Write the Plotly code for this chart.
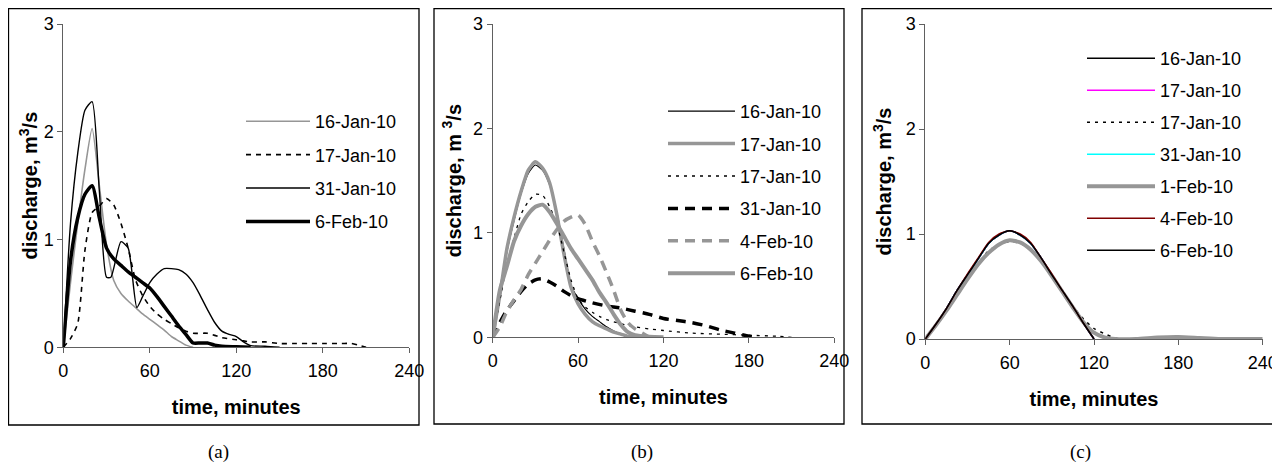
import plotly.graph_objects as go

# the page puts the figure 8px in from the top-left corner
OFF = 8
W, H = 1280 - OFF, 465 - OFF

# ---- panel (a) ----
a_16jan_t = [0, 5, 10, 15, 20, 25, 30, 35, 40, 45, 50, 55, 60, 65, 70, 75, 80, 85, 90]
a_16jan_q = [0, 0.6, 1.15, 1.65, 2.03, 1.5, 0.95, 0.62, 0.5, 0.43, 0.37, 0.31, 0.26, 0.21, 0.16, 0.1, 0.06, 0.02, 0]

a_17jan_t = [0, 5, 10, 15, 20, 25, 30, 35, 40, 45, 50, 55, 60, 65, 70, 75, 80, 85, 90, 100,
             110, 120, 130, 140, 150, 160, 170, 180, 190, 200, 205, 210]
a_17jan_q = [0, 0.08, 0.22, 0.9, 1.25, 1.31, 1.38, 1.32, 1.15, 0.92, 0.63, 0.48, 0.38, 0.31, 0.26,
             0.22, 0.18, 0.15, 0.13, 0.13, 0.09, 0.07, 0.05, 0.05, 0.035, 0.035, 0.035, 0.035,
             0.035, 0.035, 0.02, 0]

a_31jan_t = [0, 5, 10, 15, 20, 25, 30, 33, 40, 45, 51, 55, 60, 65, 70, 75, 80, 85, 90, 95, 100,
             105, 110, 115, 120, 125, 130, 140, 150]
a_31jan_q = [0, 1.15, 1.8, 2.2, 2.28, 1.45, 0.65, 0.65, 0.98, 0.92, 0.37, 0.47, 0.6, 0.68, 0.73,
             0.73, 0.72, 0.68, 0.6, 0.48, 0.35, 0.23, 0.15, 0.12, 0.1, 0.05, 0.015, 0.01, 0]

a_6feb_t = [0, 5, 10, 15, 20, 25, 30, 35, 40, 45, 50, 55, 60, 65, 70, 75, 80, 85, 90, 95, 100,
            105, 110, 120, 130]
a_6feb_q = [0, 0.8, 1.2, 1.42, 1.5, 1.2, 0.92, 0.82, 0.76, 0.7, 0.65, 0.6, 0.55, 0.47, 0.38,
            0.29, 0.2, 0.12, 0.04, 0.04, 0.04, 0.02, 0.01, 0.005, 0]

# ---- panel (b) ----
b_t = [0, 5, 10, 15, 20, 25, 30, 35, 40, 45, 50, 55, 60, 65, 70, 75, 80, 85, 90, 95, 100]
b_16jan_q = [0, 0.4, 0.82, 1.12, 1.38, 1.57, 1.65, 1.6, 1.46, 1.2, 0.85, 0.5, 0.37, 0.27, 0.2,
             0.15, 0.1, 0.06, 0.03, 0, 0]
b_17jan_q = [0, 0.4, 0.85, 1.15, 1.4, 1.6, 1.68, 1.62, 1.48, 1.18, 0.8, 0.48, 0.32, 0.22, 0.15,
             0.11, 0.08, 0.05, 0.03, 0.01, 0]

b_17jan_dot_t = [0, 5, 10, 15, 20, 25, 30, 35, 40, 45, 50, 55, 60, 65, 70, 75, 80, 90, 100, 110,
                 120, 140, 160, 180, 200, 210]
b_17jan_dot_q = [0, 0.35, 0.7, 0.95, 1.18, 1.3, 1.37, 1.36, 1.25, 1.09, 0.82, 0.55, 0.37, 0.29,
                 0.24, 0.2, 0.17, 0.13, 0.1, 0.08, 0.065, 0.04, 0.03, 0.02, 0.01, 0]

b_31jan_t = [0, 5, 10, 15, 20, 25, 30, 35, 40, 45, 50, 55, 60, 70, 80, 90, 100, 110, 120, 130,
             140, 150, 160, 170, 180, 185]
b_31jan_q = [0, 0.14, 0.26, 0.35, 0.44, 0.51, 0.55, 0.56, 0.53, 0.49, 0.44, 0.4, 0.37, 0.33, 0.3,
             0.28, 0.25, 0.22, 0.18, 0.16, 0.14, 0.11, 0.07, 0.04, 0.01, 0]

b_4feb_t = [0, 5, 10, 15, 20, 25, 30, 35, 40, 45, 50, 55, 60, 65, 70, 75, 80, 85, 90, 95, 100,
            105, 110]
b_4feb_q = [0, 0.1, 0.25, 0.36, 0.46, 0.6, 0.71, 0.82, 0.93, 1.03, 1.11, 1.15, 1.17, 1.08, 0.92,
            0.78, 0.62, 0.45, 0.26, 0.14, 0.08, 0.04, 0]

b_6feb_t = [0, 5, 10, 15, 20, 25, 30, 35, 40, 45, 50, 55, 60, 65, 70, 75, 80, 85, 90, 95, 100,
            110, 120]
b_6feb_q = [0, 0.45, 0.68, 0.92, 1.07, 1.18, 1.25, 1.27, 1.2, 1.09, 0.97, 0.85, 0.75, 0.65, 0.55,
            0.43, 0.33, 0.22, 0.12, 0.05, 0.02, 0.005, 0]

# ---- panel (c) ----
c_t = [0, 7.5, 15, 22.5, 30, 37.5, 45, 52.5, 60, 67.5, 75, 82.5, 90, 97.5, 105, 112.5, 120]
c_black_q = [0, 0.14, 0.29, 0.46, 0.61, 0.76, 0.91, 0.99, 1.03, 0.99, 0.91, 0.77, 0.61, 0.46,
             0.31, 0.15, 0]
c_brown_q = [0, 0.14, 0.29, 0.46, 0.62, 0.77, 0.92, 1.0, 1.03, 1.0, 0.92, 0.77, 0.62, 0.46, 0.31,
             0.15, 0]

c_17jan_dot_t = [0, 7.5, 15, 22.5, 30, 37.5, 45, 52.5, 60, 67.5, 75, 82.5, 90, 97.5, 105, 112.5,
                 120, 127.5, 132, 137.5]
c_17jan_dot_q = [0, 0.13, 0.27, 0.43, 0.58, 0.72, 0.84, 0.9, 0.93, 0.91, 0.86, 0.76, 0.61, 0.46,
                 0.31, 0.19, 0.1, 0.05, 0.025, 0]

c_1feb_t = [0, 7.5, 15, 22.5, 30, 37.5, 45, 52.5, 60, 67.5, 75, 82.5, 90, 97.5, 105, 112.5, 120,
            127.5, 135, 150, 165, 180, 195, 210, 240]
c_1feb_q = [0, 0.13, 0.27, 0.42, 0.57, 0.71, 0.82, 0.9, 0.94, 0.92, 0.85, 0.74, 0.6, 0.45, 0.3,
            0.16, 0.06, 0.015, 0, 0, 0.015, 0.02, 0.01, 0, 0]

x_ticks = [0, 60, 120, 180, 240]
y_ticks = [0, 1, 2, 3]

GRAY = "#969696"
AX = "#606060"
SANS = "Liberation Sans, Arial, sans-serif"
SERIF = "Liberation Serif, Times New Roman, serif"


def px(x):
    return max(x - OFF, 0.5) / W


def py(y):
    return 1 - max(y - OFF, 0.5) / H


fig = go.Figure()


def add(t, q, name, panel, color, width, dash="solid"):
    ax = "" if panel == 1 else str(panel)
    fig.add_trace(go.Scatter(
        x=t, y=q, name=name, mode="lines",
        line=dict(color=color, width=width, dash=dash, shape="spline", smoothing=0.6),
        xaxis="x" + ax, yaxis="y" + ax,
        legend="legend" + ax, legendgroup=f"p{panel}_{len(fig.data)}",
        hoverinfo="skip",
    ))


add(a_16jan_t, a_16jan_q, "16-Jan-10", 1, GRAY, 1.6)
add(a_17jan_t, a_17jan_q, "17-Jan-10", 1, "black", 1.6, "5px,5px")
add(a_31jan_t, a_31jan_q, "31-Jan-10", 1, "black", 1.4)
add(a_6feb_t, a_6feb_q, "6-Feb-10", 1, "black", 3.5)

add(b_t, b_16jan_q, "16-Jan-10", 2, "black", 1.2)
add(b_t, b_17jan_q, "17-Jan-10", 2, GRAY, 3.5)
add(b_17jan_dot_t, b_17jan_dot_q, "17-Jan-10", 2, "black", 1.3, "3px,5px")
add(b_31jan_t, b_31jan_q, "31-Jan-10", 2, "black", 3.5, "10px,7px")
add(b_4feb_t, b_4feb_q, "4-Feb-10", 2, GRAY, 3.5, "10px,7px")
add(b_6feb_t, b_6feb_q, "6-Feb-10", 2, GRAY, 4)

add(c_t, c_black_q, "16-Jan-10", 3, "black", 1.5)
add(c_t, c_black_q, "17-Jan-10", 3, "#ff00ff", 1.5)
add(c_17jan_dot_t, c_17jan_dot_q, "17-Jan-10", 3, "black", 1.5, "3px,5px")
add(c_t, c_black_q, "31-Jan-10", 3, "#00ffff", 1.5)
add(c_1feb_t, c_1feb_q, "1-Feb-10", 3, GRAY, 4)
add(c_t, c_brown_q, "4-Feb-10", 3, "#800000", 1.5)
add(c_t, c_black_q, "6-Feb-10", 3, "black", 1.5)

# screen geometry of the three panels: plot area (x0, x1, ytop, ybottom) and frame
areas = [(63.3, 409.3, 24, 347.3), (492.7, 834.3, 24, 337.3), (925.3, 1262.7, 24, 339)]
frames = [(7, 7, 419, 425), (434, 7, 844, 424), (862, 7, 1273, 424)]
ytitles = ["discharge, m<sup>3</sup>/s", "discharge, m <sup>3</sup>/s", "discharge, m<sup>3</sup>/s"]
ystand = [0, 6, 8]
# legend: left x, top y, gap between rows, width of the line sample
legends = [(241, 103, 7, 64), (663, 93, 6, 67), (1082, 40, 5.6, 68)]
labels = [("(a)", 218), ("(b)", 642), ("(c)", 1080)]

for i, (x0, x1, yt, yb) in enumerate(areas):
    ax = "" if i == 0 else str(i + 1)
    fig.layout["xaxis" + ax] = dict(
        domain=[px(x0), px(x1)], anchor="y" + ax, range=[0, 240], tickvals=x_ticks,
        showline=True, linecolor=AX, linewidth=1, ticks="outside", ticklen=5, tickcolor=AX,
        showgrid=False, zeroline=False, automargin=False, ticklabelstandoff=2,
        tickfont=dict(size=18, color="black", family=SANS),
        title=dict(text="<b>time, minutes</b>", font=dict(size=20, color="black", family=SANS),
                   standoff=20),
    )
    fig.layout["yaxis" + ax] = dict(
        domain=[py(yb), py(yt)], anchor="x" + ax, range=[0, 3], tickvals=y_ticks,
        showline=True, linecolor=AX, linewidth=1, ticks="outside", ticklen=5, tickcolor=AX,
        showgrid=False, zeroline=False, automargin=False,
        tickfont=dict(size=18, color="black", family=SANS),
        title=dict(text="<b>" + ytitles[i] + "</b>",
                   font=dict(size=20, color="black", family=SANS), standoff=ystand[i]),
    )
    lx, ly, gap, iw = legends[i]
    fig.layout["legend" + ax] = dict(
        x=px(lx), y=py(ly), xanchor="left", yanchor="top", bgcolor="rgba(0,0,0,0)",
        font=dict(size=18, color="black", family=SANS), tracegroupgap=gap,
        traceorder="grouped", itemwidth=iw,
    )
    fx0, fy0, fx1, fy1 = frames[i]
    fig.add_shape(type="rect", xref="paper", yref="paper", x0=px(fx0), x1=px(fx1),
                  y0=py(fy1), y1=py(fy0), line=dict(color="black", width=1.3))
    text, cx = labels[i]
    fig.add_annotation(text=text, x=px(cx), y=py(452), xref="paper", yref="paper",
                       showarrow=False, xanchor="center", yanchor="middle",
                       font=dict(size=19, color="black", family=SERIF))

fig.update_layout(
    width=W, height=H, margin=dict(l=0, r=0, t=0, b=0, autoexpand=False),
    paper_bgcolor="white", plot_bgcolor="white", showlegend=True,
)

fig.write_html("out.html")
